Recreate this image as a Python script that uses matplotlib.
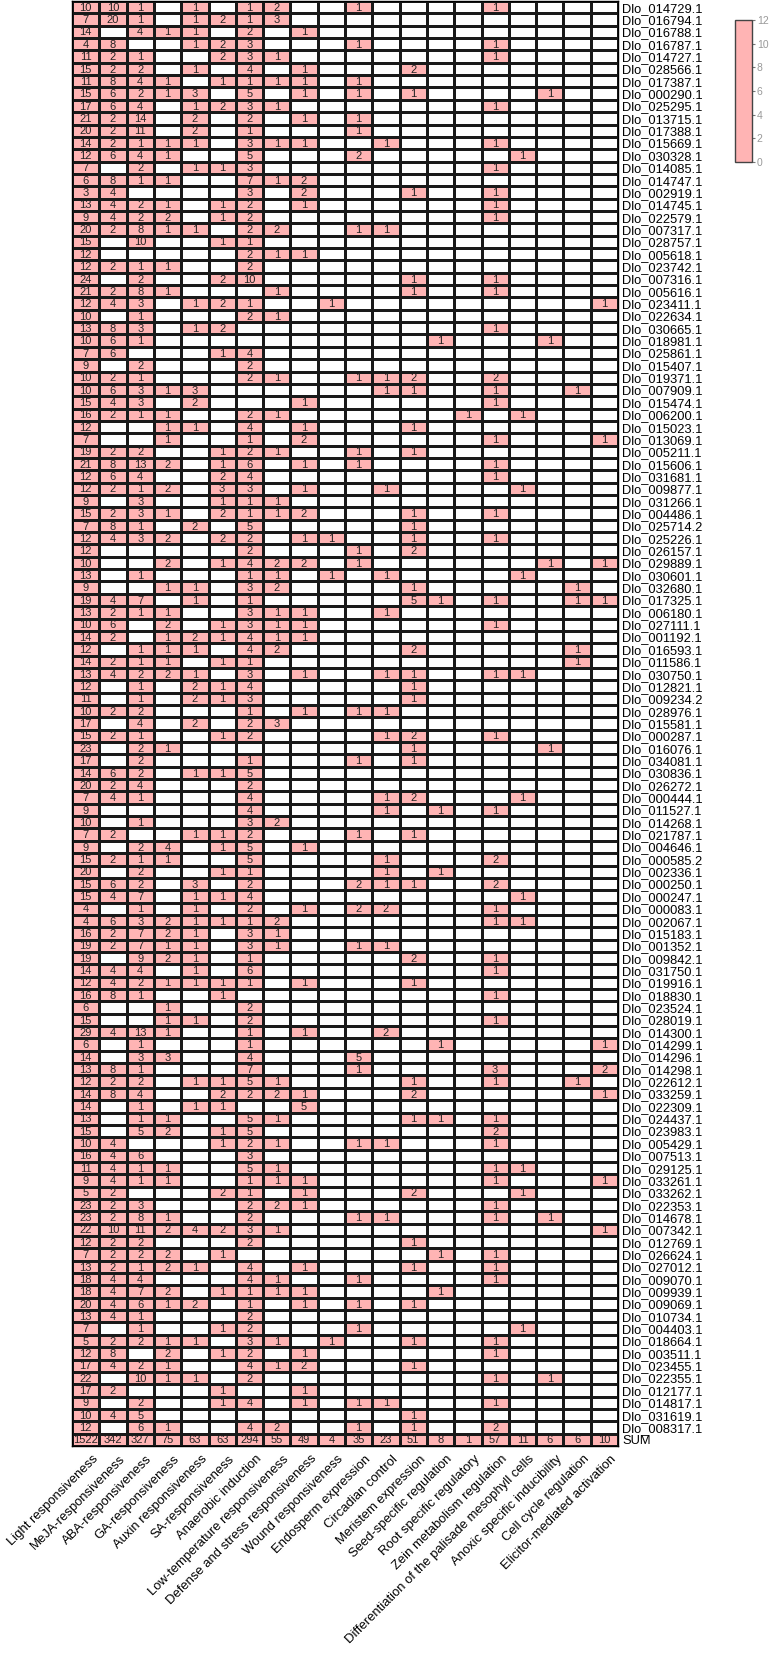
import numpy as np
import matplotlib.pyplot as plt
import matplotlib as mpl
from matplotlib.colors import ListedColormap, BoundaryNorm, Normalize
from matplotlib.transforms import ScaledTranslation

plt.rcParams['font.family'] = ['Liberation Sans', 'DejaVu Sans']

# cis-acting element categories (columns)
elements = ["Light responsiveness", "MeJA-responsiveness", "ABA-responsiveness",
            "GA-responsiveness", "Auxin responsiveness", "SA-responsiveness",
            "Anaerobic induction", "Low-temperature responsiveness",
            "Defense and stress responsiveness", "Wound responsiveness",
            "Endosperm expression", "Circadian control", "Meristem expression",
            "Seed-specific regulation", "Root specific regulatory",
            "Zein metabolism regulation",
            "Differentiation of the palisade mesophyll cells",
            "Anoxic specific inducibility", "Cell cycle regulation",
            "Elicitor-mediated activation"]

genes = ["Dlo_014729.1", "Dlo_016794.1", "Dlo_016788.1", "Dlo_016787.1", "Dlo_014727.1",
         "Dlo_028566.1", "Dlo_017387.1", "Dlo_000290.1", "Dlo_025295.1", "Dlo_013715.1",
         "Dlo_017388.1", "Dlo_015669.1", "Dlo_030328.1", "Dlo_014085.1", "Dlo_014747.1",
         "Dlo_002919.1", "Dlo_014745.1", "Dlo_022579.1", "Dlo_007317.1", "Dlo_028757.1",
         "Dlo_005618.1", "Dlo_023742.1", "Dlo_007316.1", "Dlo_005616.1", "Dlo_023411.1",
         "Dlo_022634.1", "Dlo_030665.1", "Dlo_018981.1", "Dlo_025861.1", "Dlo_015407.1",
         "Dlo_019371.1", "Dlo_007909.1", "Dlo_015474.1", "Dlo_006200.1", "Dlo_015023.1",
         "Dlo_013069.1", "Dlo_005211.1", "Dlo_015606.1", "Dlo_031681.1", "Dlo_009877.1",
         "Dlo_031266.1", "Dlo_004486.1", "Dlo_025714.2", "Dlo_025226.1", "Dlo_026157.1",
         "Dlo_029889.1", "Dlo_030601.1", "Dlo_032680.1", "Dlo_017325.1", "Dlo_006180.1",
         "Dlo_027111.1", "Dlo_001192.1", "Dlo_016593.1", "Dlo_011586.1", "Dlo_030750.1",
         "Dlo_012821.1", "Dlo_009234.2", "Dlo_028976.1", "Dlo_015581.1", "Dlo_000287.1",
         "Dlo_016076.1", "Dlo_034081.1", "Dlo_030836.1", "Dlo_026272.1", "Dlo_000444.1",
         "Dlo_011527.1", "Dlo_014268.1", "Dlo_021787.1", "Dlo_004646.1", "Dlo_000585.2",
         "Dlo_002336.1", "Dlo_000250.1", "Dlo_000247.1", "Dlo_000083.1", "Dlo_002067.1",
         "Dlo_015183.1", "Dlo_001352.1", "Dlo_009842.1", "Dlo_031750.1", "Dlo_019916.1",
         "Dlo_018830.1", "Dlo_023524.1", "Dlo_028019.1", "Dlo_014300.1", "Dlo_014299.1",
         "Dlo_014296.1", "Dlo_014298.1", "Dlo_022612.1", "Dlo_033259.1", "Dlo_022309.1",
         "Dlo_024437.1", "Dlo_023983.1", "Dlo_005429.1", "Dlo_007513.1", "Dlo_029125.1",
         "Dlo_033261.1", "Dlo_033262.1", "Dlo_022353.1", "Dlo_014678.1", "Dlo_007342.1",
         "Dlo_012769.1", "Dlo_026624.1", "Dlo_027012.1", "Dlo_009070.1", "Dlo_009939.1",
         "Dlo_009069.1", "Dlo_010734.1", "Dlo_004403.1", "Dlo_018664.1", "Dlo_003511.1",
         "Dlo_023455.1", "Dlo_022355.1", "Dlo_012177.1", "Dlo_014817.1", "Dlo_031619.1",
         "Dlo_008317.1"]

# number of each element per gene, same order as genes / elements
counts = [
    [10,10,1,0,1,0,1,2,0,0,1,0,0,0,0,1,0,0,0,0],
    [7,20,1,0,1,2,1,3,0,0,0,0,0,0,0,0,0,0,0,0],
    [14,0,4,1,1,0,2,0,1,0,0,0,0,0,0,0,0,0,0,0],
    [4,8,0,0,1,2,3,0,0,0,1,0,0,0,0,1,0,0,0,0],
    [11,2,1,0,0,2,3,1,0,0,0,0,0,0,0,1,0,0,0,0],
    [15,2,2,0,1,0,4,0,1,0,0,0,2,0,0,0,0,0,0,0],
    [11,8,4,1,0,1,1,1,1,0,1,0,0,0,0,0,0,0,0,0],
    [15,6,2,1,3,0,5,0,1,0,1,0,1,0,0,0,0,1,0,0],
    [17,6,4,0,1,2,3,1,0,0,0,0,0,0,0,1,0,0,0,0],
    [21,2,14,0,2,0,2,0,1,0,1,0,0,0,0,0,0,0,0,0],
    [20,2,11,0,2,0,1,0,0,0,1,0,0,0,0,0,0,0,0,0],
    [14,2,1,1,1,0,3,1,1,0,0,1,0,0,0,1,0,0,0,0],
    [12,6,4,1,0,0,5,0,0,0,2,0,0,0,0,0,1,0,0,0],
    [7,0,2,0,1,1,3,0,0,0,0,0,0,0,0,1,0,0,0,0],
    [6,8,1,1,0,0,7,1,2,0,0,0,0,0,0,0,0,0,0,0],
    [3,4,0,0,0,0,3,0,2,0,0,0,1,0,0,1,0,0,0,0],
    [13,4,2,1,0,1,2,0,1,0,0,0,0,0,0,1,0,0,0,0],
    [9,4,2,2,0,1,2,0,0,0,0,0,0,0,0,1,0,0,0,0],
    [20,2,8,1,1,0,2,2,0,0,1,1,0,0,0,0,0,0,0,0],
    [15,0,10,0,0,1,1,0,0,0,0,0,0,0,0,0,0,0,0,0],
    [12,0,0,0,0,0,2,1,1,0,0,0,0,0,0,0,0,0,0,0],
    [12,2,1,1,0,0,2,0,0,0,0,0,0,0,0,0,0,0,0,0],
    [24,0,2,0,0,2,10,0,0,0,0,0,1,0,0,1,0,0,0,0],
    [21,2,8,1,0,0,0,1,0,0,0,0,1,0,0,1,0,0,0,0],
    [12,4,3,0,1,2,1,0,0,1,0,0,0,0,0,0,0,0,0,1],
    [10,0,1,0,0,0,2,1,0,0,0,0,0,0,0,0,0,0,0,0],
    [13,8,3,0,1,2,0,0,0,0,0,0,0,0,0,1,0,0,0,0],
    [10,6,1,0,0,0,0,0,0,0,0,0,0,1,0,0,0,1,0,0],
    [7,6,0,0,0,1,4,0,0,0,0,0,0,0,0,0,0,0,0,0],
    [9,0,2,0,0,0,2,0,0,0,0,0,0,0,0,0,0,0,0,0],
    [10,2,1,0,0,0,2,1,0,0,1,1,2,0,0,2,0,0,0,0],
    [10,6,3,1,3,0,0,0,0,0,0,1,1,0,0,1,0,0,1,0],
    [15,4,3,0,2,0,0,0,1,0,0,0,0,0,0,1,0,0,0,0],
    [16,2,1,1,0,0,2,1,0,0,0,0,0,0,1,0,1,0,0,0],
    [12,0,0,1,1,0,4,0,1,0,0,0,1,0,0,0,0,0,0,0],
    [7,0,0,1,0,0,1,0,2,0,0,0,0,0,0,1,0,0,0,1],
    [19,2,2,0,0,1,2,1,0,0,1,0,1,0,0,0,0,0,0,0],
    [21,8,13,2,0,1,6,0,1,0,1,0,0,0,0,1,0,0,0,0],
    [12,6,4,0,0,2,4,0,0,0,0,0,0,0,0,1,0,0,0,0],
    [12,2,1,2,0,3,3,0,1,0,0,1,0,0,0,0,1,0,0,0],
    [9,0,3,0,0,1,1,1,0,0,0,0,0,0,0,0,0,0,0,0],
    [15,2,3,1,0,2,1,1,2,0,0,0,1,0,0,1,0,0,0,0],
    [7,8,1,0,2,0,5,0,0,0,0,0,1,0,0,0,0,0,0,0],
    [12,4,3,2,0,2,2,0,1,1,0,0,1,0,0,1,0,0,0,0],
    [12,0,0,0,0,0,2,0,0,0,1,0,2,0,0,0,0,0,0,0],
    [10,0,0,2,0,1,4,2,2,0,1,0,0,0,0,0,0,1,0,1],
    [13,0,1,0,0,0,1,1,0,1,0,1,0,0,0,0,1,0,0,0],
    [9,0,0,1,1,0,3,2,0,0,0,0,1,0,0,0,0,0,1,0],
    [19,4,7,0,1,0,1,0,0,0,0,0,5,1,0,1,0,0,1,1],
    [13,2,1,1,0,0,3,1,1,0,0,1,0,0,0,0,0,0,0,0],
    [10,6,0,2,0,1,3,1,1,0,0,0,0,0,0,1,0,0,0,0],
    [14,2,0,1,2,1,4,1,1,0,0,0,0,0,0,0,0,0,0,0],
    [12,0,1,1,1,0,4,2,0,0,0,0,2,0,0,0,0,0,1,0],
    [14,2,1,1,0,1,1,0,0,0,0,0,0,0,0,0,0,0,1,0],
    [13,4,2,2,1,0,3,0,1,0,0,1,1,0,0,1,1,0,0,0],
    [12,0,1,0,2,1,4,0,0,0,0,0,1,0,0,0,0,0,0,0],
    [11,0,1,0,2,1,3,0,0,0,0,0,1,0,0,0,0,0,0,0],
    [10,2,2,0,0,0,1,0,1,0,1,1,0,0,0,0,0,0,0,0],
    [17,0,4,0,2,0,2,3,0,0,0,0,0,0,0,0,0,0,0,0],
    [15,2,1,0,0,1,2,0,0,0,0,1,2,0,0,1,0,0,0,0],
    [23,0,2,1,0,0,0,0,0,0,0,0,1,0,0,0,0,1,0,0],
    [17,0,2,0,0,0,1,0,0,0,1,0,1,0,0,0,0,0,0,0],
    [14,6,2,0,1,1,5,0,0,0,0,0,0,0,0,0,0,0,0,0],
    [20,2,4,0,0,0,2,0,0,0,0,0,0,0,0,0,0,0,0,0],
    [7,4,1,0,0,0,4,0,0,0,0,1,2,0,0,0,1,0,0,0],
    [9,0,0,0,0,0,4,0,0,0,0,1,0,1,0,1,0,0,0,0],
    [10,0,1,0,0,0,3,2,0,0,0,0,0,0,0,0,0,0,0,0],
    [7,2,0,0,1,1,2,0,0,0,1,0,1,0,0,0,0,0,0,0],
    [9,0,2,4,0,1,5,0,1,0,0,0,0,0,0,0,0,0,0,0],
    [15,2,1,1,0,0,5,0,0,0,0,1,0,0,0,2,0,0,0,0],
    [20,0,2,0,0,1,1,0,0,0,0,1,0,1,0,0,0,0,0,0],
    [15,6,2,0,3,0,2,0,0,0,2,1,1,0,0,2,0,0,0,0],
    [15,4,7,0,1,1,4,0,0,0,0,0,0,0,0,0,1,0,0,0],
    [4,0,1,0,1,0,2,0,1,0,2,2,0,0,0,1,0,0,0,0],
    [4,6,3,2,1,1,1,2,0,0,0,0,0,0,0,1,1,0,0,0],
    [16,2,7,2,1,0,3,1,0,0,0,0,0,0,0,0,0,0,0,0],
    [19,2,7,1,1,0,3,1,0,0,1,1,0,0,0,0,0,0,0,0],
    [19,0,9,2,1,0,1,0,0,0,0,0,2,0,0,1,0,0,0,0],
    [14,4,4,0,1,0,6,0,0,0,0,0,0,0,0,1,0,0,0,0],
    [12,4,2,1,1,1,1,0,1,0,0,0,1,0,0,0,0,0,0,0],
    [16,8,1,0,0,1,0,0,0,0,0,0,0,0,0,1,0,0,0,0],
    [6,0,0,1,0,0,2,0,0,0,0,0,0,0,0,0,0,0,0,0],
    [15,0,0,1,1,0,2,0,0,0,0,0,0,0,0,1,0,0,0,0],
    [29,4,13,1,0,0,1,0,1,0,0,2,0,0,0,0,0,0,0,0],
    [6,0,1,0,0,0,1,0,0,0,0,0,0,1,0,0,0,0,0,1],
    [14,0,3,3,0,0,4,0,0,0,5,0,0,0,0,0,0,0,0,0],
    [13,8,1,0,0,0,7,0,0,0,1,0,0,0,0,3,0,0,0,2],
    [12,2,2,0,1,1,5,1,0,0,0,0,1,0,0,1,0,0,1,0],
    [14,8,4,0,0,2,2,2,1,0,0,0,2,0,0,0,0,0,0,1],
    [14,0,1,0,1,1,0,0,5,0,0,0,0,0,0,0,0,0,0,0],
    [13,0,1,1,0,0,5,1,0,0,0,0,1,1,0,1,0,0,0,0],
    [15,0,5,2,0,1,5,0,0,0,0,0,0,0,0,2,0,0,0,0],
    [10,4,0,0,0,1,2,1,0,0,1,1,0,0,0,1,0,0,0,0],
    [16,4,6,0,0,0,3,0,0,0,0,0,0,0,0,0,0,0,0,0],
    [11,4,1,1,0,0,5,1,0,0,0,0,0,0,0,1,1,0,0,0],
    [9,4,1,1,0,0,1,1,1,0,0,0,0,0,0,1,0,0,0,1],
    [5,2,0,0,0,2,1,0,1,0,0,0,2,0,0,0,1,0,0,0],
    [23,2,3,0,0,0,2,2,1,0,0,0,0,0,0,1,0,0,0,0],
    [23,2,8,1,0,0,2,0,0,0,1,1,0,0,0,1,0,1,0,0],
    [22,10,11,2,4,2,3,1,0,0,0,0,0,0,0,0,0,0,0,1],
    [12,2,2,0,0,0,2,0,0,0,0,0,1,0,0,0,0,0,0,0],
    [7,2,2,2,0,1,0,0,0,0,0,0,0,1,0,1,0,0,0,0],
    [13,2,1,2,1,0,4,0,1,0,0,0,1,0,0,1,0,0,0,0],
    [18,4,4,0,0,0,4,1,0,0,1,0,0,0,0,1,0,0,0,0],
    [18,4,7,2,0,1,1,1,1,0,0,0,0,1,0,0,0,0,0,0],
    [20,4,6,1,2,0,1,0,1,0,1,0,1,0,0,0,0,0,0,0],
    [13,4,1,0,0,0,2,0,0,0,0,0,0,0,0,0,0,0,0,0],
    [7,0,1,0,0,1,2,0,0,0,1,0,0,0,0,0,1,0,0,0],
    [5,2,2,1,1,0,3,1,0,1,0,0,1,0,0,1,0,0,0,0],
    [12,8,0,2,0,1,2,0,1,0,0,0,0,0,0,1,0,0,0,0],
    [17,4,2,1,0,0,4,1,2,0,0,0,1,0,0,0,0,0,0,0],
    [22,0,10,1,1,0,2,0,0,0,0,0,0,0,0,1,0,1,0,0],
    [17,2,0,0,0,1,0,0,1,0,0,0,0,0,0,0,0,0,0,0],
    [9,0,2,0,0,1,4,0,1,0,1,1,0,0,0,1,0,0,0,0],
    [10,4,5,0,0,0,0,0,0,0,0,0,1,0,0,0,0,0,0,0],
    [12,0,6,1,0,0,4,2,0,0,1,0,1,0,0,2,0,0,0,0],
]

sums = [1522, 342, 327, 75, 63, 63, 294, 55, 49, 4, 35, 23, 51, 8, 1, 57, 11, 6, 6, 10]

pink = "#FFB4B4"
W, H = 771, 1653

mat = np.array(counts + [sums])
rows = genes + ["SUM"]
nr, nc = mat.shape

fig = plt.figure(figsize=(W / 100, H / 100), dpi=100)
ax = fig.add_axes([72 / W, 1 - 1446 / H, 546 / W, 1445 / H])

cmap = ListedColormap(["white", pink])
norm = BoundaryNorm([-0.5, 0.5, 100000], 2)
ax.pcolormesh(mat, cmap=cmap, norm=norm, edgecolors="#1a1a1a", linewidth=0.8)
ax.set_xlim(0, nc)
ax.set_ylim(nr, 0)

for i in range(nr):
    for j in range(nc):
        v = mat[i, j]
        if v:
            ax.text(j + 0.5, i + 0.55, str(v), ha="center", va="center",
                    fontsize=8, color="#222222")

ax.yaxis.tick_right()
ax.set_yticks(np.arange(nr) + 0.5)
ax.set_yticklabels(rows, fontsize=9.3)
ax.set_xticks(np.arange(nc) + 0.5)
ax.set_xticklabels(elements, rotation=45, ha="right", rotation_mode="anchor",
                   fontsize=9.4)
ax.tick_params(axis="y", length=0, pad=3)
ax.tick_params(axis="x", length=0, pad=5)
shift = ScaledTranslation(6 / 100, 0, fig.dpi_scale_trans)
for lab in ax.get_xticklabels():
    lab.set_transform(lab.get_transform() + shift)
for s in ax.spines.values():
    s.set_linewidth(1.0)

# colour key
cax = fig.add_axes([735 / W, 1 - 162 / H, 17 / W, 142 / H])
sm = mpl.cm.ScalarMappable(norm=Normalize(0, 12), cmap=ListedColormap([pink]))
cb = fig.colorbar(sm, cax=cax, ticks=range(0, 13, 2))
cb.outline.set_edgecolor("#444444")
cb.outline.set_linewidth(1.0)
cax.tick_params(labelsize=7.5, length=2, pad=1.5, color="#777777",
                labelcolor="#999999")

fig.savefig("out.png", dpi=100)
